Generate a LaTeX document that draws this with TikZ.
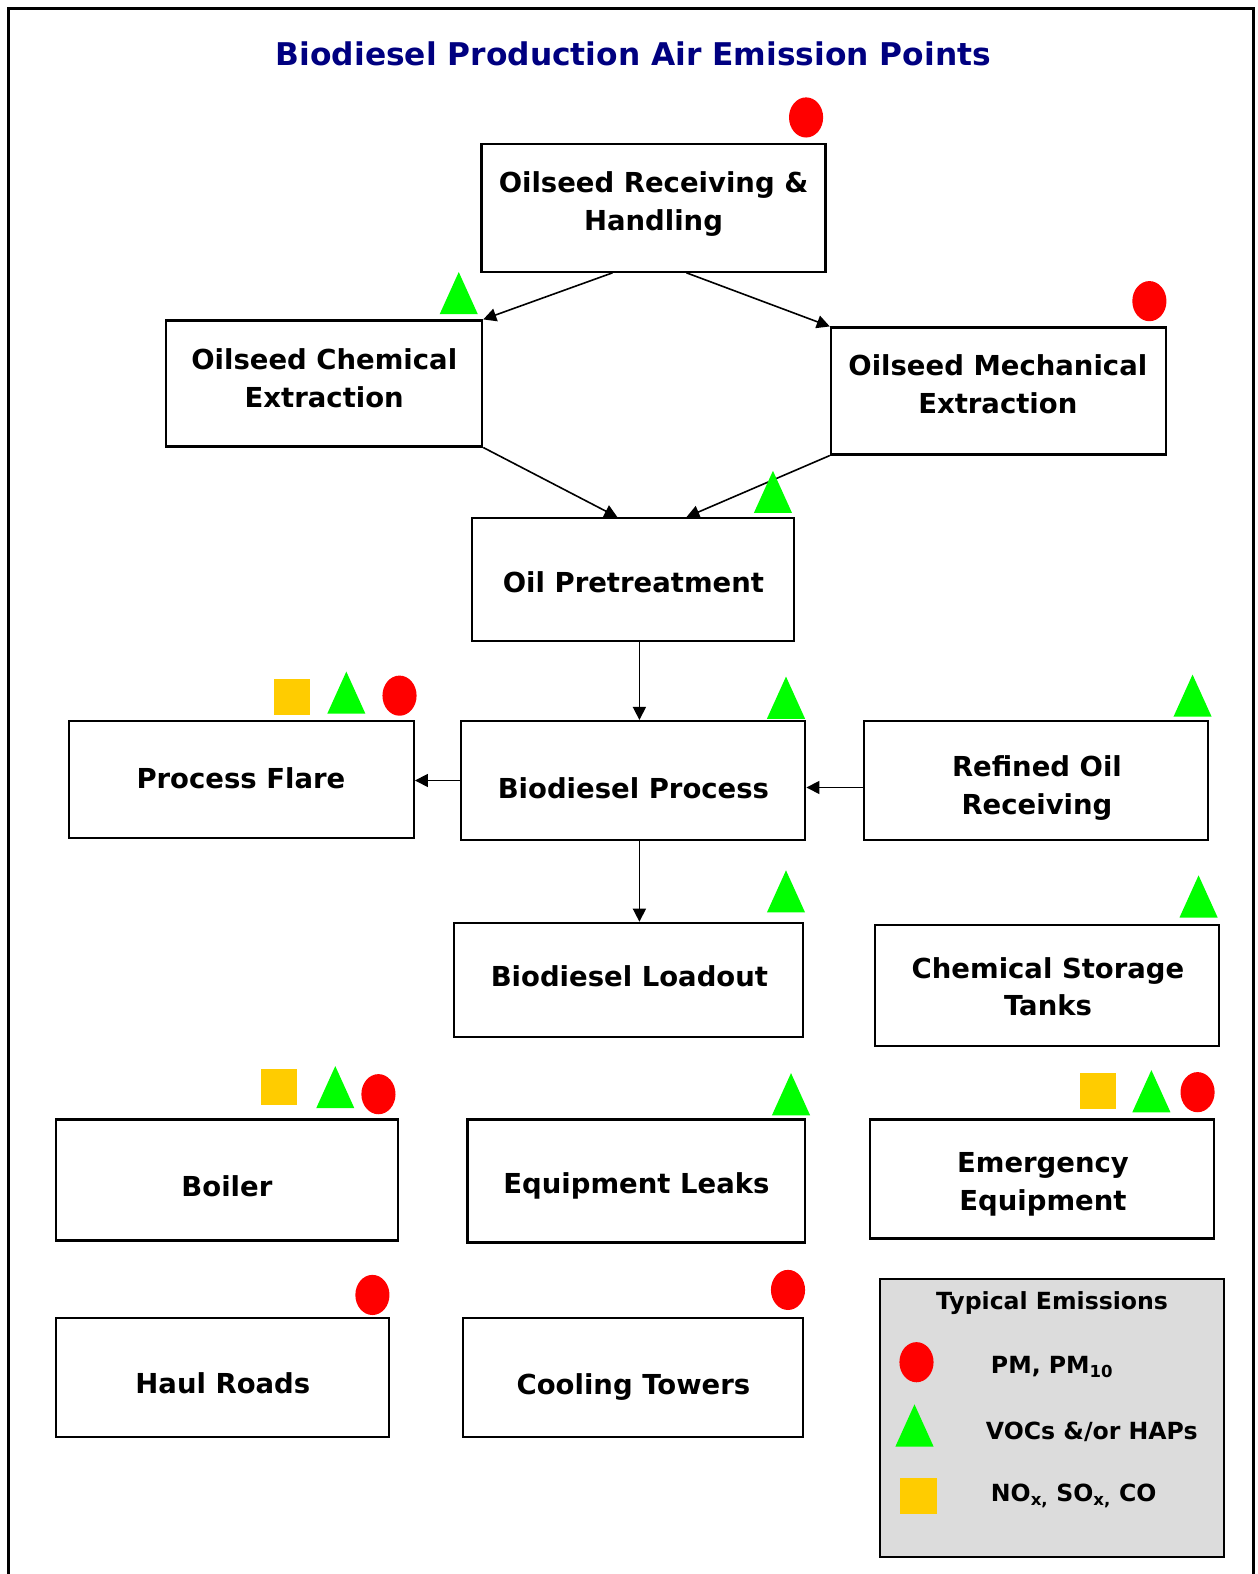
\documentclass[tikz,border=0pt]{standalone}
\usepackage{fontspec}
\setmainfont{DejaVu Sans}
\usetikzlibrary{arrows.meta,shapes.geometric}
\definecolor{emred}{HTML}{FF0000}
\definecolor{emgreen}{HTML}{00FF00}
\definecolor{emyellow}{HTML}{FFCC00}
\definecolor{titlenavy}{HTML}{000080}
\definecolor{legendgray}{HTML}{DCDCDC}
\tikzset{
  procbox/.style={draw, line width=2.1pt, inner sep=0pt},
  boxtext/.style={inner sep=0pt, align=center, font=\fontsize{27.5}{37.5}\selectfont\bfseries},
  legtext/.style={inner sep=0pt, font=\fontsize{23.6}{28}\selectfont\bfseries},
  flow/.style={line width=1.6pt, -{Triangle[length=13pt,width=13pt]}},
  tri/.pic={\fill[emgreen] (-19,21) -- (19,21) -- (0,-21) -- cycle;},
  circ/.pic={\fill[emred] (0,0) ellipse [x radius=17, y radius=20];},
  sqr/.pic={\fill[emyellow] (-18,-18) rectangle (18,18);}
}
\begin{document}
\begin{tikzpicture}[x=1.004pt,y=-1.004pt]
\useasboundingbox (0,0) rectangle (1253,1568);
\draw[line width=3pt] (8,1570) -- (8,8) -- (1249,8) -- (1249,1570);

\node[font=\fontsize{31.3}{36}\selectfont\bfseries, text=titlenavy] (title) at (631,54) {Biodiesel Production Air Emission Points};

% boxes
\node[procbox, minimum width=344, minimum height=128] (rec) at (651,207) {};
\node[procbox, minimum width=316, minimum height=126] (chem) at (323,382) {};
\node[procbox, minimum width=335, minimum height=127] (mech) at (994.5,389.5) {};
\node[procbox, minimum width=322, minimum height=123] (pre) at (631,577.5) {};
\node[procbox, minimum width=345, minimum height=117] (flare) at (240.5,776.5) {};
\node[procbox, minimum width=344, minimum height=119] (proc) at (631,777.5) {};
\node[procbox, minimum width=344, minimum height=119] (refined) at (1032,777.5) {};
\node[procbox, minimum width=349, minimum height=114] (load) at (626.5,976) {};
\node[procbox, minimum width=344, minimum height=121] (chst) at (1043,981.5) {};
\node[procbox, minimum width=342, minimum height=121] (boiler) at (226,1175.5) {};
\node[procbox, minimum width=338, minimum height=123] (leaks) at (634,1176.5) {};
\node[procbox, minimum width=344, minimum height=119] (emerg) at (1038,1174.5) {};
\node[procbox, minimum width=333, minimum height=119] (haul) at (221.5,1372.5) {};
\node[procbox, minimum width=340, minimum height=119] (cool) at (631,1372.5) {};

% box texts
\node[boxtext] (recT) at (651,203) {Oilseed Receiving \&\\Handling};
\node[boxtext] (chemT) at (323,377) {Oilseed Chemical\\Extraction};
\node[boxtext] (mechT) at (994,383) {Oilseed Mechanical\\Extraction};
\node[boxtext] (preT) at (631,580) {Oil Pretreatment};
\node[boxtext] (flareT) at (240,775) {Process Flare};
\node[boxtext] (procT) at (631,785) {Biodiesel Process};
\node[boxtext] (refinedT) at (1033,785) {Refined Oil\\Receiving};
\node[boxtext] (loadT) at (627,973) {Biodiesel Loadout};
\node[boxtext] (chstT) at (1044,983) {Chemical Storage\\Tanks};
\node[boxtext] (boilerT) at (226,1182) {Boiler};
\node[boxtext] (leaksT) at (634,1181) {Equipment Leaks};
\node[boxtext] (emergT) at (1039,1180) {Emergency\\Equipment};
\node[boxtext] (haulT) at (222,1378) {Haul Roads};
\node[boxtext] (coolT) at (631,1382) {Cooling Towers};

% legend
\node[draw, line width=2.1pt, fill=legendgray, minimum width=344, minimum height=278, inner sep=0pt] (legend) at (1048,1413) {};
\node[legtext] (legtitle) at (1048,1298) {Typical Emissions};
\node[legtext, anchor=west] (legpm) at (987,1362) {PM, PM\textsubscript{10}};
\node[legtext, anchor=west] (legvoc) at (982,1426) {VOCs \&/or HAPs};
\node[legtext, anchor=west] (legnox) at (987,1490) {NO\textsubscript{x,} SO\textsubscript{x,} CO};
\pic at (913,1357) {circ};
\pic at (911,1420) {tri};
\pic at (915,1490) {sqr};

% connectors
\draw[flow] ([xshift=-41pt]rec.south) -- (chem.north east);
\draw[flow] ([xshift=33pt]rec.south) -- (mech.north west);
\draw[flow] (chem.south east) -- ([xshift=-16pt]pre.north);
\draw[flow] (mech.south west) -- ([xshift=53pt]pre.north);
\draw[flow] ([xshift=6pt]pre.south) -- ([xshift=6pt]proc.north);
\draw[flow] (proc.west) -- (proc.west -| flare.east);
\draw[flow] ([yshift=-7pt]refined.west) -- ([yshift=-7pt]refined.west -| proc.east);
\draw[flow] ([xshift=6pt]proc.south) -- ([xshift=6pt]proc.south |- load.north);

% emission markers
\pic at (803,117) {circ};
\pic at (457,292) {tri};
\pic at (1145,300) {circ};
\pic at (770,490) {tri};
\pic at (291,694) {sqr};
\pic at (345,690) {tri};
\pic at (398,693) {circ};
\pic at (783,695) {tri};
\pic at (1188,693) {tri};
\pic at (783,888) {tri};
\pic at (1194,893) {tri};
\pic at (278,1083) {sqr};
\pic at (334,1083) {tri};
\pic at (377,1090) {circ};
\pic at (788,1090) {tri};
\pic at (1094,1087) {sqr};
\pic at (1147,1087) {tri};
\pic at (1193,1088) {circ};
\pic at (371,1290) {circ};
\pic at (785,1285) {circ};
\end{tikzpicture}
\end{document}
